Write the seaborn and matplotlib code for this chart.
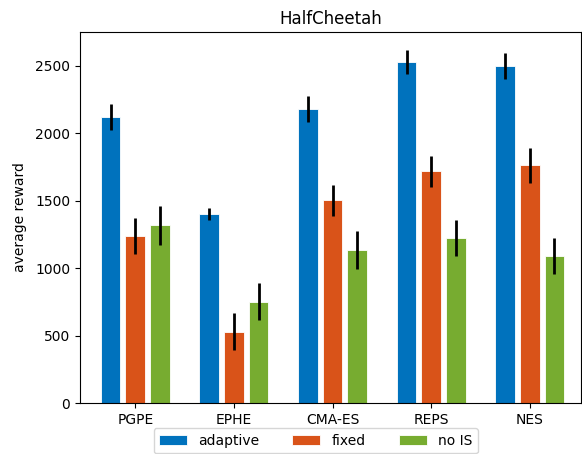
import pandas as pd
import numpy as np
import matplotlib
matplotlib.use('Agg')
import matplotlib.pyplot as plt
import seaborn as sns

# datos
algoritmos = ['PGPE', 'EPHE', 'CMA-ES', 'REPS', 'NES']
metodos = ['adaptive', 'fixed', 'no IS']
adaptive = [2120, 1398, 2180, 2528, 2498]
fixed = [1236, 530, 1504, 1718, 1762]
no_is = [1318, 752, 1132, 1222, 1088]
err_adaptive = [100, 45, 95, 90, 95]
err_fixed = [135, 135, 115, 115, 130]
err_no_is = [145, 135, 140, 135, 135]

colores = ['#0072BD', '#D95319', '#77AC30']

df = pd.DataFrame({
    'algoritmo': algoritmos * 3,
    'metodo': np.repeat(metodos, len(algoritmos)),
    'reward': adaptive + fixed + no_is,
})
errores = [err_adaptive, err_fixed, err_no_is]

fig = plt.figure(figsize=(5.82, 4.54), dpi=100)
ax = fig.add_axes([0.1375, 0.1123, 0.861, 0.8172])

sns.barplot(data=df, x='algoritmo', y='reward', hue='metodo',
            palette=colores, saturation=1, width=0.75, gap=0.2, errorbar=None,
            edgecolor='white', linewidth=0.6, ax=ax)

# barras de error
for cont, err in zip(ax.containers, errores):
    xs = [p.get_x() + p.get_width() / 2 for p in cont]
    hs = [p.get_height() for p in cont]
    ax.errorbar(xs, hs, yerr=err, fmt='none', ecolor='black', elinewidth=2, capsize=0)

ax.set_xlim(-0.56, 4.52)
ax.set_ylim(0, 2750)
ax.set_yticks([0, 500, 1000, 1500, 2000, 2500])
ax.set_title('HalfCheetah')
ax.set_xlabel('')
ax.set_ylabel('average reward', labelpad=6)
ax.legend(loc='upper center', bbox_to_anchor=(0.47, -0.068), ncol=3,
          borderaxespad=0, handlelength=2.0, columnspacing=2.4)

fig.savefig('out.png', dpi=100)
